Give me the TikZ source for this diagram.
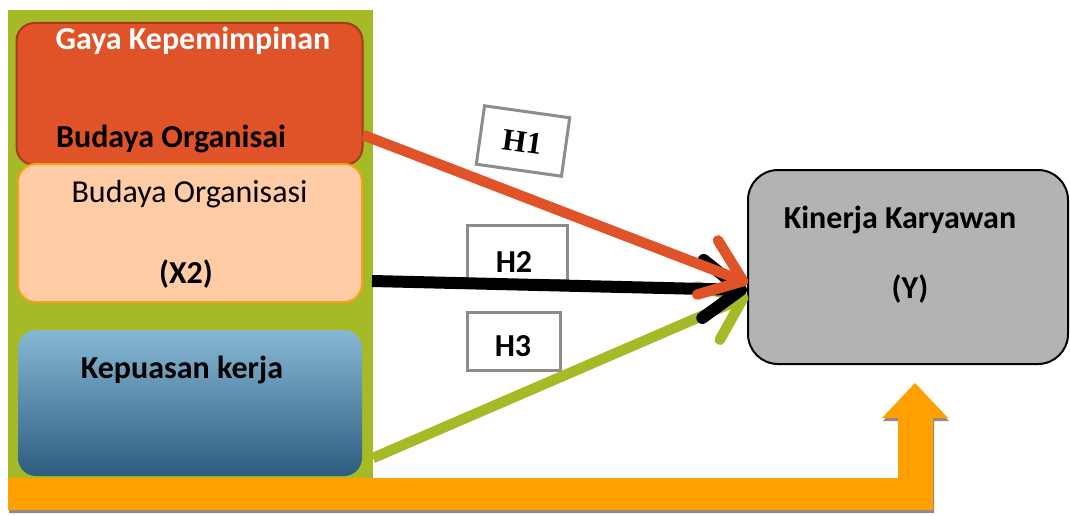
\documentclass[tikz,border=0pt]{standalone}
\usepackage{fontspec}
\setmainfont{Carlito}
\newfontfamily\hfont{Liberation Serif}
\usetikzlibrary{arrows.meta}

\definecolor{olive}{RGB}{166,185,38}
\definecolor{brick}{RGB}{224,83,41}
\definecolor{brickedge}{RGB}{165,60,30}
\definecolor{peach}{RGB}{255,204,166}
\definecolor{peachedge}{RGB}{247,161,26}
\definecolor{skytop}{RGB}{134,184,212}
\definecolor{skybot}{RGB}{46,92,128}
\definecolor{amber}{RGB}{255,160,0}
\definecolor{ash}{RGB}{179,179,179}
\definecolor{hedge}{RGB}{140,140,140}

\tikzset{
  panel/.style={rounded corners=18pt, line width=2pt, inner sep=0pt},
  lbl/.style={font=\fontsize{32}{38}\selectfont, anchor=base, inner sep=0pt},
  blbl/.style={lbl, font=\bfseries\fontsize{32}{38}\selectfont},
  hbox/.style={draw=hedge, fill=white, line width=3pt, inner sep=0pt},
  link/.style={line width=10.5pt, -{Straight Barb[length=38pt, width=58pt, round]}},
}

\begin{document}
\begin{tikzpicture}[x=1pt, y=-1pt]
\useasboundingbox (0,0) rectangle (1070,516);

% backing panel for the three factors
\fill[olive] (8,10) rectangle (373,480);

% factor boxes
\node[panel, draw=brickedge, fill=brick, minimum width=346pt, minimum height=142pt] (lead) at (189.5,94) {};
\node[panel, draw=peachedge, fill=peach, minimum width=344pt, minimum height=138pt] (culture) at (190,233) {};
\node[panel, draw=none, top color=skytop, bottom color=skybot, minimum width=344pt, minimum height=146pt] (satis) at (190,403) {};

\node[blbl, text=white] (leadA) at (193,50) {Gaya Kepemimpinan};
\node[blbl] (leadB) at (171,147) {Budaya Organisai};
\node[lbl] (cultA) at (189.5,202) {Budaya Organisasi};
\node[blbl] (cultB) at (186,283) {(X2)};
\node[blbl] (satA) at (182,378) {Kepuasan kerja};

% outcome box
\node[draw=black, fill=ash, rounded corners=30pt, line width=2pt, minimum width=320pt, minimum height=194pt, inner sep=0pt] (perf) at (908,267) {};
\node[blbl] (perfA) at (900,228) {Kinerja Karyawan};
\node[blbl] (perfB) at (910,298) {(Y)};

% joint feedback arrow along the bottom
\path[fill=hedge] (9,481) -- (899,481) -- (899,421) -- (883,421) -- (916,386)
  -- (949,421) -- (934,421) -- (934,513) -- (9,513) -- cycle;
\path[fill=amber] (8,478) -- (898,478) -- (898,418) -- (882,418) -- (915,383)
  -- (948,418) -- (933,418) -- (933,510) -- (8,510) -- cycle;

% hypothesis labels
\node[hbox, rotate=-8, minimum width=86pt, minimum height=59pt] (h1) at (523,141) {};
\node[rotate=-8, inner sep=0pt, font=\hfont\bfseries\fontsize{31}{36}\selectfont] (h1t) at (523,142) {H1};
\node[hbox, minimum width=100pt, minimum height=55pt] (h2) at (517,252.5) {};
\node[blbl] (h2t) at (514,272) {H2};
\node[hbox, minimum width=93pt, minimum height=58pt] (h3) at (513.5,341) {};
\node[blbl] (h3t) at (513,356) {H3};

% connector ends
\coordinate (s1) at (363,135);
\coordinate (s2) at (372,281);
\coordinate (s3) at (373,458);
\coordinate (t1) at (748,283);
\coordinate (t2) at (747,290);
\coordinate (t3) at (748,296);

% hypothesis paths
\draw[link, draw=olive] (s3) -- (t3);
\draw[link, draw=black, line width=12pt] (s2) -- (t2);
\draw[link, draw=brick] (s1) -- (t1);
\end{tikzpicture}
\end{document}
